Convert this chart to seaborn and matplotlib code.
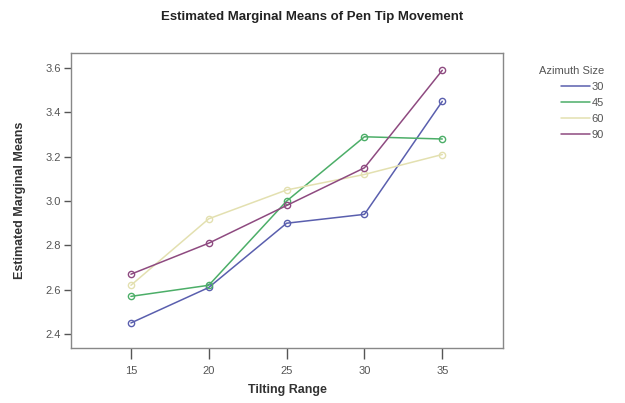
import matplotlib
matplotlib.use("Agg")
import matplotlib.pyplot as plt
import seaborn as sns
import pandas as pd
from matplotlib.lines import Line2D

tilting = [15, 20, 25, 30, 35]
azimuth_labels = ["30", "45", "60", "90"]
means_30 = [2.45, 2.61, 2.90, 2.94, 3.45]
means_45 = [2.57, 2.62, 3.00, 3.29, 3.28]
means_60 = [2.62, 2.92, 3.05, 3.12, 3.21]
means_90 = [2.67, 2.81, 2.98, 3.15, 3.59]
colors = ["#5a5fae", "#4cae68", "#e3e0b0", "#8e4a80"]

rows = []
for lab, vals in zip(azimuth_labels, [means_30, means_45, means_60, means_90]):
    for t, v in zip(tilting, vals):
        rows.append({"Tilting Range": t, "Estimated Marginal Means": v, "Azimuth Size": lab})
df = pd.DataFrame(rows)

sns.set_style("white")
plt.rcParams["font.family"] = ["Liberation Sans", "DejaVu Sans"]

fig = plt.figure(figsize=(6.25, 4.03), dpi=100)
ax = fig.add_axes([71/625, 1 - 348/403, (503-71)/625, (348-53)/403])

sns.lineplot(data=df, x="Tilting Range", y="Estimated Marginal Means",
             hue="Azimuth Size", palette=colors, ax=ax, marker="o",
             markersize=4.5, markerfacecolor="none", markeredgewidth=1.0,
             linewidth=1.1, legend=False)
for line, c in zip(ax.lines, colors):
    line.set_markeredgecolor(c)

ax.set_xlim(11.15, 38.9)
ax.set_ylim(2.337, 3.668)
ax.set_xticks(tilting)
ax.set_xticklabels([str(t) for t in tilting])
ax.set_yticks([2.4, 2.6, 2.8, 3.0, 3.2, 3.4, 3.6])
ax.set_yticklabels(["2.4", "2.6", "2.8", "3.0", "3.2", "3.4", "3.6"])
ax.tick_params(axis="both", which="major", bottom=True, left=True, direction="out",
               width=1, color="#555555", labelsize=8, labelcolor="#555555")
ax.tick_params(axis="y", length=5, pad=2)
ax.tick_params(axis="x", length=8, pad=5)
for s in ax.spines.values():
    s.set_color("#888888")
    s.set_linewidth(1.0)

ax.set_xlabel("Tilting Range", fontsize=9, fontweight="bold", color="#333333", labelpad=6)
ax.set_ylabel("Estimated Marginal Means", fontsize=9, fontweight="bold", color="#333333", labelpad=14)

fig.text(0.5, 1 - 17/403, "Estimated Marginal Means of Pen Tip Movement",
         ha="center", va="center", fontsize=9.5, fontweight="bold", color="#222222")

handles = [Line2D([0], [0], color=c, lw=1.1) for c in colors]
leg = fig.legend(handles, azimuth_labels, title="Azimuth Size",
                 loc="upper left", bbox_to_anchor=(533/625, 1 - 60/403),
                 frameon=False, fontsize=8, title_fontsize=8,
                 handlelength=2.6, handletextpad=0.1, labelspacing=0.55,
                 borderpad=0.0)
leg._legend_box.align = "right"
for t in leg.get_texts():
    t.set_color("#555555")
leg.get_title().set_color("#555555")

fig.savefig("out.png", dpi=100)
